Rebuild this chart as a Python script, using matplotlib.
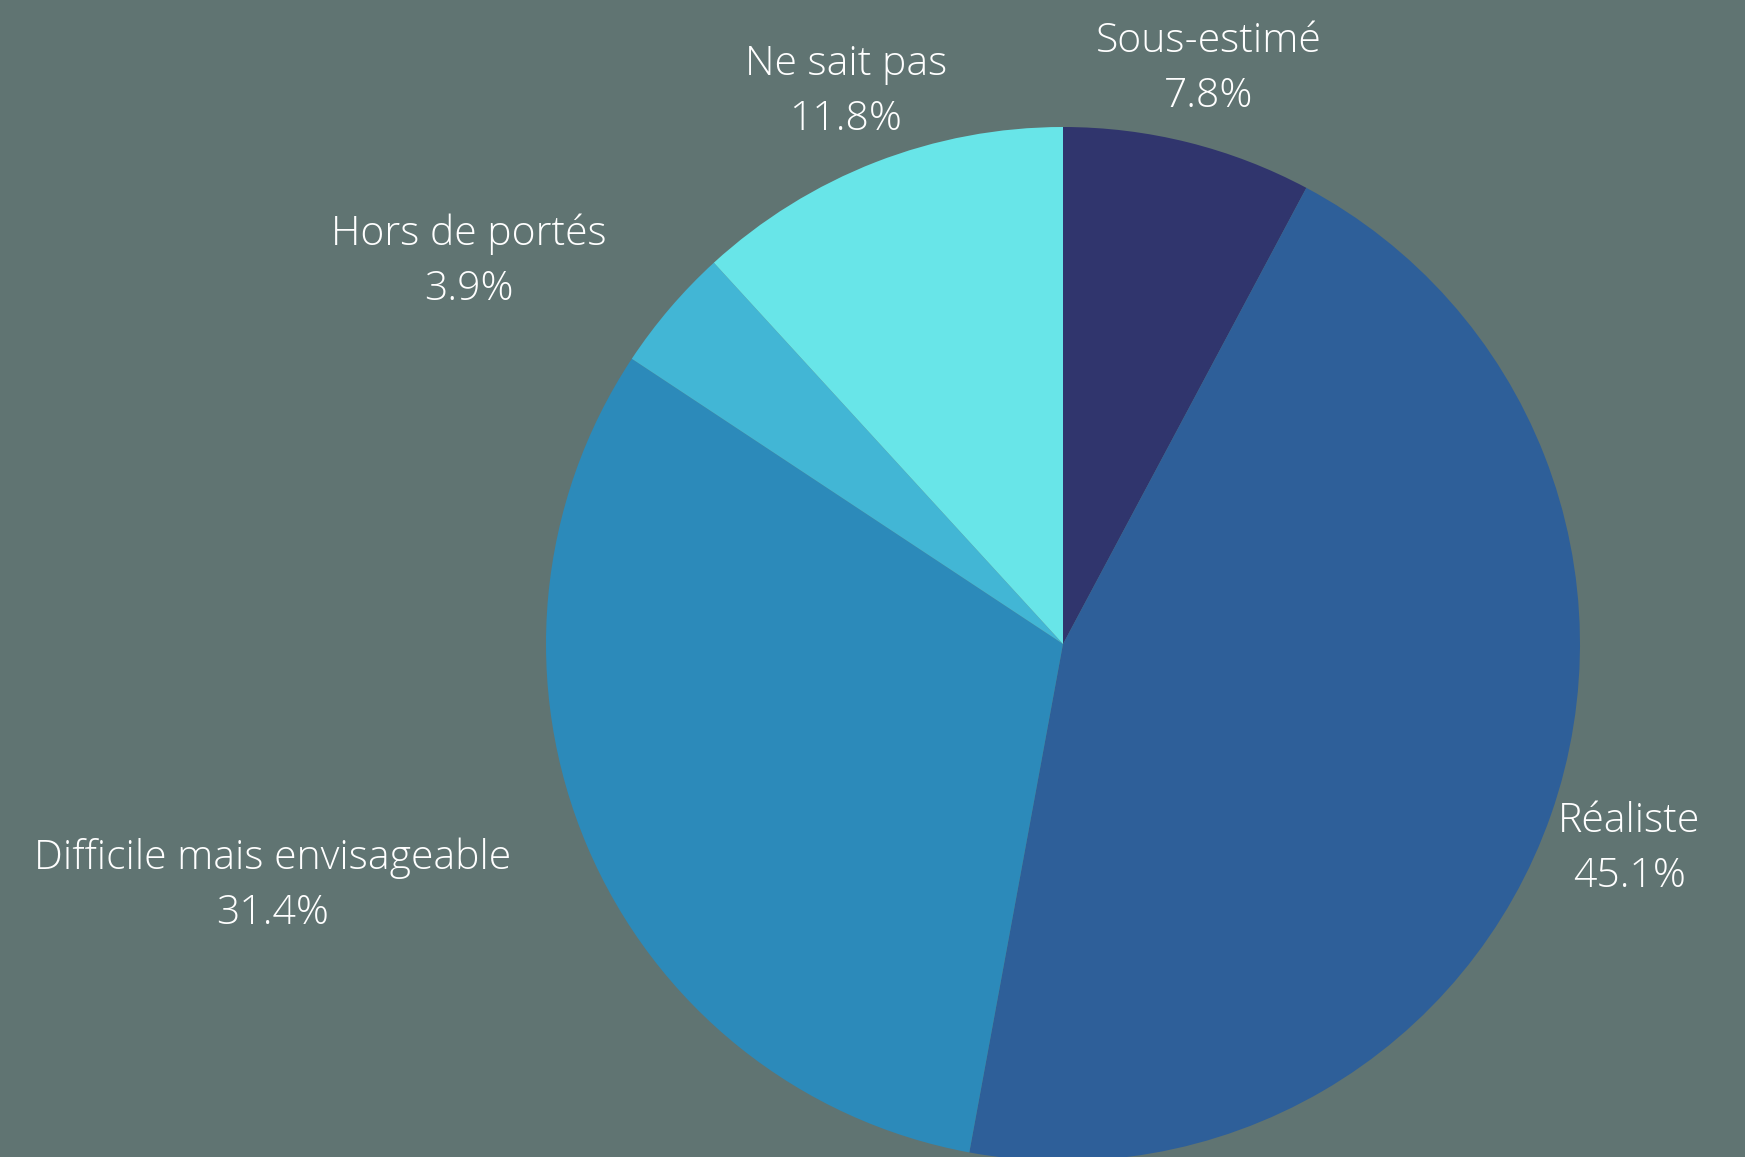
import matplotlib
matplotlib.use("Agg")
import matplotlib.pyplot as plt

# donnees du graphique
categories = ["Sous-estimé", "Réaliste", "Difficile mais envisageable", "Hors de portés", "Ne sait pas"]
valeurs = [7.8, 45.1, 31.4, 3.9, 11.8]
couleurs = ["#30356d", "#2e5f99", "#2c8aba", "#42b6d5", "#68e5e8"]
alignements = ["center", "center", "right", "right", "center"]

fond = "#607472"
plt.rcParams['font.family'] = ['Open Sans', 'DejaVu Sans']

fig = plt.figure(figsize=(17.45, 11.57), dpi=100, facecolor=fond)
ax = fig.add_axes([0, 0, 1, 1])
ax.set_facecolor(fond)

etiquettes = [c + "\n" + str(v) + "%" for c, v in zip(categories, valeurs)]
wedges, textes = ax.pie(valeurs, labels=etiquettes, colors=couleurs, startangle=90,
                        counterclock=False, center=(1063, 513), radius=517,
                        labeldistance=1.16, wedgeprops={'linewidth': 0},
                        textprops={'color': 'white', 'fontsize': 29.4, 'fontweight': 'light',
                                   'linespacing': 1.45})
for t, ha in zip(textes, alignements):
    t.set_ha(ha)
    t.set_multialignment('center')
    x, y = t.get_position()
    t.set_position((x, y - 7))  # petit decalage vers le bas

ax.set_xlim(0, 1745)
ax.set_ylim(0, 1157)
ax.set_aspect('equal')
ax.axis('off')

plt.savefig("out.png", dpi=100, facecolor=fond)
